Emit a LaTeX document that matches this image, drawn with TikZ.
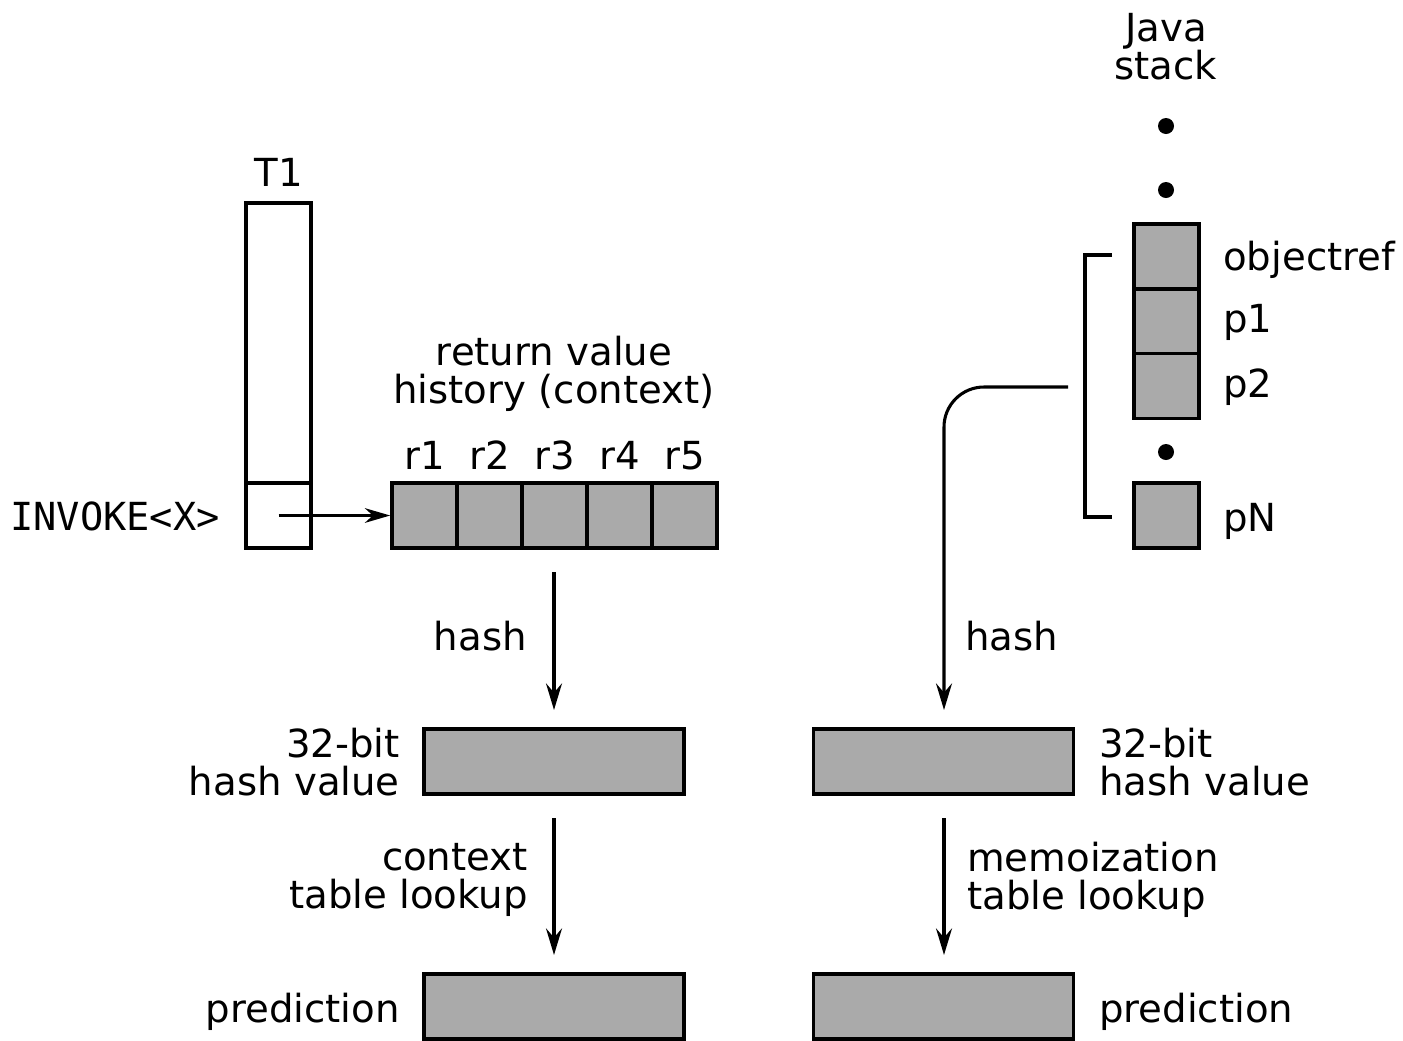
\documentclass[tikz,border=0pt]{standalone}
\usepackage{fontspec}
\setmainfont{DejaVu Sans}
\setmonofont{DejaVu Sans Mono}
\usetikzlibrary{arrows.meta}
\definecolor{boxgray}{HTML}{AAAAAA}
\begin{document}
\begin{tikzpicture}[x=0.75pt,y=-0.75pt,
  lbl/.style={inner sep=0pt, font=\fontsize{29}{28.5}\selectfont},
  mono/.style={inner sep=0pt, font=\fontsize{29}{28.5}\selectfont\ttfamily},
  gbox/.style={draw, line width=2.7pt, fill=boxgray, inner sep=0pt},
  wbox/.style={draw, line width=2.7pt, fill=white, inner sep=0pt},
  cell/.style={gbox, minimum width=48.75pt, minimum height=48.75pt},
  wide/.style={gbox, minimum width=195pt, minimum height=48.75pt},
  arr/.style={line width=2.3pt, -{Stealth[length=20pt,width=12pt,inset=7pt]}},
  arrsmall/.style={line width=2pt, -{Stealth[length=19pt,width=11pt,inset=6pt]}},
  thin/.style={line width=2.6pt},
  dot/.style={circle, fill=black, inner sep=0pt, minimum size=12pt}]
\useasboundingbox (0,0) rectangle (1403,1040);

% ---- T1 column
\node[lbl, anchor=base] (t1lbl) at (278.5,186) {T1};
\node[wbox, minimum width=48.75pt, minimum height=210pt] (t1top) at (278.5,343) {};
\node[wbox, minimum width=48.75pt, minimum height=48.75pt] (t1cell) at (278.5,515.5) {};
\node[mono, anchor=base east] (invoke) at (220,530) {INVOKE<X>};

% ---- return value history
\node[lbl, align=center] (histlbl) at (554,374) {return value\\history (context)};
\node[cell] (r1) at (424.5,515.5) {};
\node[cell] (r2) at (489.5,515.5) {};
\node[cell] (r3) at (554.5,515.5) {};
\node[cell] (r4) at (619.5,515.5) {};
\node[cell] (r5) at (684.5,515.5) {};
\foreach \n/\x in {1/424.5,2/489.5,3/554.5,4/619.5,5/684.5}
  \node[lbl, anchor=base] (rl\n) at (\x,469) {r\n};

\draw[arrsmall] (t1cell.center) -- (r1.west);

% ---- left pipeline
\node[wide] (hl) at (554,761.5) {};
\node[wide] (pl) at (554,1006.5) {};
\coordinate (la1) at (554,572);
\coordinate (la2) at (554,710);
\coordinate (lb1) at (554,818);
\coordinate (lb2) at (554,955);
\draw[arr] (la1) -- (la2);
\draw[arr] (lb1) -- (lb2);
\node[lbl, anchor=base east] (hashl) at (527,650) {hash};
\node[lbl, align=right, anchor=east] (hvl) at (400,762.5) {32-bit\\hash value};
\node[lbl, align=right, anchor=east] (ctxl) at (528,880) {context\\table lookup};
\node[lbl, anchor=base east] (predl) at (400,1022) {prediction};

% ---- Java stack
\node[lbl, align=center] (java) at (1166,46.5) {Java\\stack};
\node[dot] (d1) at (1166,126) {};
\node[dot] (d2) at (1166,190) {};
\node[cell] (s0) at (1166.5,256.5) {};
\node[cell] (s1) at (1166.5,321.25) {};
\node[cell] (s2) at (1166.5,386) {};
\node[dot] (d3) at (1166,452) {};
\node[cell] (sn) at (1166.5,515.5) {};
\node[lbl, anchor=base west] (objref) at (1223,270) {objectref};
\node[lbl, anchor=base west] (p1) at (1223,332) {p1};
\node[lbl, anchor=base west] (p2) at (1223,397) {p2};
\node[lbl, anchor=base west] (pn) at (1223,531) {pN};

% bracket
\coordinate (bt) at (1112,255);
\coordinate (bb) at (1112,517);
\draw[thin] (bt) -- ++(-27,0) |- (bb);

% ---- right pipeline
\node[wide] (hr) at (943.5,761.5) {};
\node[wide] (pr) at (943.5,1006.5) {};
\coordinate (cs) at (1068,387);
\coordinate (ce) at (944,710);
\draw[arr, rounded corners=30pt] (cs) -| (ce);
\coordinate (rb1) at (944,818);
\coordinate (rb2) at (944,955);
\draw[arr] (rb1) -- (rb2);
\node[lbl, anchor=base west] (hashr) at (965,650) {hash};
\node[lbl, align=left, anchor=west] (hvr) at (1099,762.5) {32-bit\\hash value};
\node[lbl, align=left, anchor=west] (memo) at (967,880) {memoization\\table lookup};
\node[lbl, anchor=base west] (predr) at (1099,1022) {prediction};
\end{tikzpicture}
\end{document}
